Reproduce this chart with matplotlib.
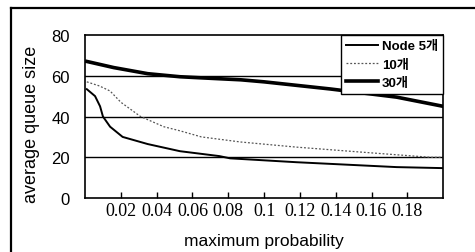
import matplotlib
matplotlib.use('Agg')
import matplotlib.pyplot as plt
from matplotlib.lines import Line2D

# 읽어낸 값 (scan of the original chart)
x_node5 = [0.001, 0.0056, 0.0084, 0.010, 0.014, 0.021, 0.035, 0.053, 0.075, 0.081, 0.118, 0.174, 0.2]
y_node5 = [53.4, 50, 45, 40, 35, 30, 26.5, 23, 20.6, 19.5, 17.6, 15.2, 14.7]

x_10 = [0.001, 0.008, 0.014, 0.020, 0.031, 0.044, 0.053, 0.065, 0.087, 0.118, 0.155, 0.193, 0.2]
y_10 = [57, 55, 52.5, 47, 40, 35, 33, 30, 27.5, 25, 22.5, 20, 20]

x_30 = [0.001, 0.016, 0.035, 0.053, 0.064, 0.087, 0.1, 0.137, 0.174, 0.2]
y_30 = [67, 64, 61, 59.5, 59, 58, 57, 53.5, 49.5, 45]

labels = ['Node 5개', '10개', '30개']
xticks = [0.02, 0.04, 0.06, 0.08, 0.1, 0.12, 0.14, 0.16, 0.18]
xtick_labels = ['0.02', '0.04', '0.06', '0.08', '0.1', '0.12', '0.14', '0.16', '0.18']
yticks = [0, 20, 40, 60, 80]

fig = plt.figure(figsize=(4.75, 2.53), dpi=100)
ax = fig.add_axes([0.179, 0.213, 0.754, 0.645])

ax.plot(x_node5, y_node5, color='black', lw=1.4, label=labels[0])
ax.plot(x_10, y_10, color='#555555', lw=0.9, ls=(0, (1.5, 1.5)), label=labels[1])
ax.plot(x_30, y_30, color='black', lw=2.6, label=labels[2])

ax.set_xlim(0, 0.2)
ax.set_ylim(0, 80)
ax.set_xticks(xticks)
ax.set_xticklabels(xtick_labels, family='Liberation Serif', fontsize=13)
ax.set_yticks(yticks)
ax.set_yticklabels([str(v) for v in yticks], family='Liberation Sans', fontsize=12)
ax.tick_params(axis='x', direction='in', length=4, width=1, pad=3)
ax.tick_params(axis='y', length=0, pad=11)

# 가로 격자선
for v in [20, 40, 60]:
    ax.axhline(v, color='black', lw=1, zorder=1)

for s in ax.spines.values():
    s.set_linewidth(1.2)

ax.set_xlabel('maximum probability', family='Liberation Sans', fontsize=12.5, labelpad=10)
ax.set_ylabel('average queue size', family='Liberation Sans', fontsize=13)
ax.yaxis.set_label_coords(-0.125, 0.46)

leg = ax.legend(loc='upper right', borderaxespad=0, fancybox=False, edgecolor='black',
                framealpha=1, handlelength=2.4, handletextpad=0.3, labelspacing=0.45,
                borderpad=0.4,
                prop={'family': ['Liberation Sans', 'Noto Sans CJK KR'], 'size': 9.5,
                      'weight': 'bold'})
leg.get_frame().set_linewidth(1)

# 바깥 테두리
fig.add_artist(Line2D([11 / 475, 1.0], [1 - 9 / 253, 1 - 9 / 253], transform=fig.transFigure,
                      color='black', lw=1.6))
fig.add_artist(Line2D([11 / 475, 11 / 475], [0, 1 - 9 / 253], transform=fig.transFigure,
                      color='black', lw=1.6))

fig.savefig('out.png', dpi=100)
